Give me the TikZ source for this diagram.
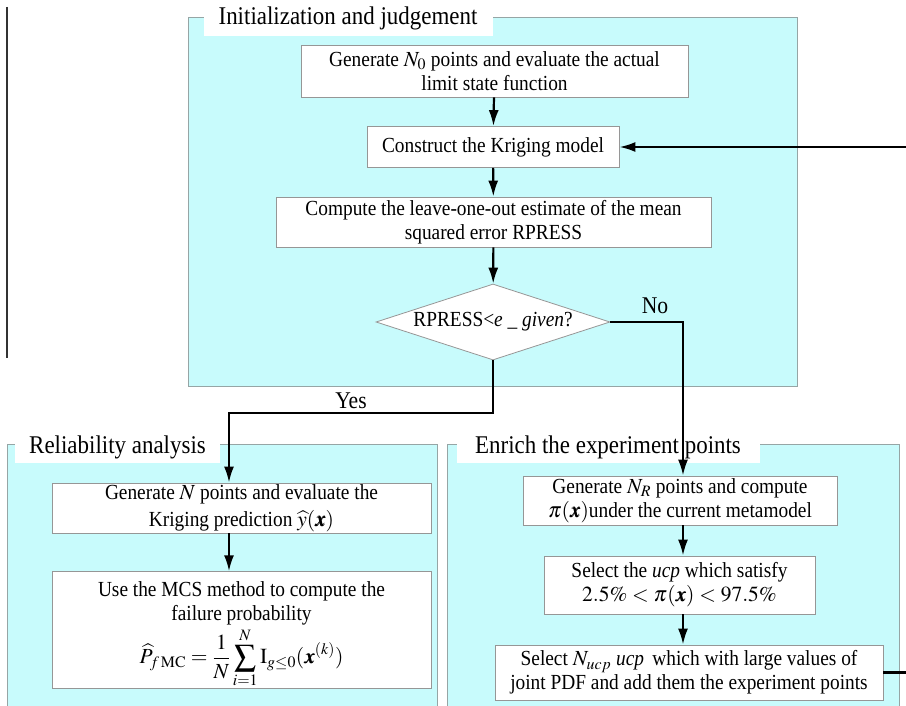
\documentclass[tikz,border=0pt]{standalone}
\usepackage{amsmath}
\usepackage{mathptmx}
\usepackage{bm}
\usepackage{fontspec}
\setmainfont{Liberation Serif}[FakeStretch=0.9]
\usetikzlibrary{shapes.geometric,arrows.meta}
\definecolor{panelcyan}{RGB}{200,251,252}
\definecolor{panelgray}{RGB}{150,165,165}
\definecolor{boxgray}{RGB}{150,150,150}
\begin{document}
\begin{tikzpicture}[x=1pt,y=-1pt,
  txt/.style={font=\fontsize{21.5}{24}\selectfont},
  panel/.style={draw=panelgray,fill=panelcyan,line width=0.8pt},
  box/.style={draw=boxgray,fill=white,line width=0.8pt,align=center,inner sep=0pt,txt},
  ttl/.style={fill=white,inner sep=0pt,font=\fontsize{25.5}{28}\selectfont},
  arr/.style={draw=black,line width=2.2pt,-{Latex[length=16pt,width=10pt]}},
  lbl/.style={font=\fontsize{24}{26}\selectfont}]
\useasboundingbox (0,0) rectangle (906,706);
\clip (0,0) rectangle (906,706);
\fill[white] (0,0) rectangle (906,706);
\draw[line width=1.5pt,draw=black!80] (7,7) -- (7,358);
% panels
\path[panel] (188,17) rectangle (797,386);
\path[panel] (7,444) rectangle (437,720);
\path[panel] (447,444) rectangle (899,720);
% titles
\node[ttl, minimum width=289, minimum height=36] (t1) at (348,18) {Initialization and judgement};
\node[ttl, minimum width=205, minimum height=32] (t2) at (117.5,447) {Reliability analysis};
\node[ttl, minimum width=303, minimum height=32] (t3) at (608,447) {Enrich the experiment points};
% top boxes
\node[box, minimum width=387, minimum height=52] (b1) at (494.5,71) {Generate $N_0$ points and evaluate the actual\\limit state function};
\node[box, minimum width=252, minimum height=41] (b2) at (493,147) {Construct the Kriging model};
\node[box, minimum width=435, minimum height=50] (b3) at (493.5,222) {Compute the leave-one-out estimate of the mean\\squared error RPRESS};
\node[diamond, draw=boxgray, fill=white, line width=0.8pt, minimum width=234, minimum height=76, inner sep=0pt, aspect=3, txt] (d) at (493,322) {RPRESS<\textit{e} \_ \textit{given}?};
% left boxes
\node[box, minimum width=379, minimum height=50] (l1) at (241.5,508) {Generate $N$ points and evaluate the\\[3pt]Kriging prediction $\widehat{y}(\bm{x})$};
\node[box, minimum width=379, minimum height=114] (l2) at (241.5,630) {\rule{0pt}{25pt}Use the MCS method to compute the\\failure probability\\[2pt]$\displaystyle \widehat{P}_{f\,\mathrm{MC}}=\frac{1}{N}\sum_{i=1}^{N}\mathrm{I}_{g\le 0}(\bm{x}^{(k)})$};
% right boxes
\node[box, minimum width=314, minimum height=49] (r1) at (680,500.5) {Generate $N_R$ points and compute\\$\pi(\bm{x})$under the current metamodel};
\node[box, minimum width=271, minimum height=58] (r2) at (679.5,585) {Select the \textit{ucp} which satisfy\\$2.5\% < \pi(\bm{x}) < 97.5\%$};
\node[box, minimum width=388, minimum height=55] (r3) at (689,672.5) {Select $N_{ucp}$ \textit{ucp}\, which with large values of\\joint PDF and add them the experiment points};
% helper coordinates
\coordinate (nox) at (683,0);
\coordinate (yesx) at (229,0);
\coordinate (yesy) at (0,413);
\coordinate (lx) at (915,0);
% connectors
\draw[arr] (b1) -- (b2);
\draw[arr] (b2) -- (b3);
\draw[arr] (b3) -- (d);
\draw[arr] (d.east) -| (r1.north -| nox);
\draw[arr] (d.south) |- (yesx |- yesy) -- (l1.north -| yesx);
\draw[arr] (l1.south -| yesx) -- (l2.north -| yesx);
\draw[arr] (r1.south -| nox) -- (r2.north -| nox);
\draw[arr] (r2.south -| nox) -- (r3.north -| nox);
\draw[arr] (r3.east) -- (r3.east -| lx) -- (b2.east -| lx) -- (b2.east);
% labels
\node[lbl] (no) at (655,306) {No};
\node[lbl] (yes) at (351,401) {Yes};
\end{tikzpicture}
\end{document}
